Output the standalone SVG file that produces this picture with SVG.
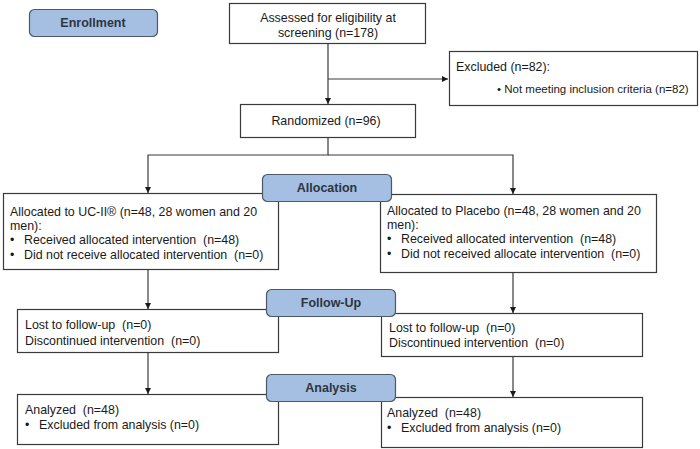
<svg xmlns="http://www.w3.org/2000/svg" width="700" height="449" viewBox="0 0 700 449" xml:space="preserve">
<style>
.box{fill:#fff;stroke:#3a3a3a;stroke-width:1.2}
.lbl{fill:#a4bfe2;stroke:#4d5866;stroke-width:1.2}
.t{font-family:"Liberation Sans",Arial,sans-serif;font-size:12.4px;fill:#1a1a1a;white-space:pre}
.b{font-family:"Liberation Sans",Arial,sans-serif;font-size:12.5px;font-weight:bold;fill:#2d3540}
.ln{fill:none;stroke:#3a3a3a;stroke-width:1.2}
</style>
<defs>
<marker id="ah" viewBox="0 0 10 10" refX="10" refY="5" markerWidth="6" markerHeight="6" orient="auto" markerUnits="userSpaceOnUse">
<path d="M0,0 L10,5 L0,10 z" fill="#1a1a1a"/>
</marker>
</defs>
<g id="connectors">
<line class="ln" x1="328" y1="43" x2="328" y2="104" marker-end="url(#ah)"/>
<line class="ln" x1="328" y1="79" x2="448" y2="79" marker-end="url(#ah)"/>
<polyline class="ln" points="328,137 328,155 148,155 148,193" marker-end="url(#ah)"/>
<polyline class="ln" points="328,155 513,155 513,194" marker-end="url(#ah)"/>
<line class="ln" x1="148" y1="269" x2="148" y2="309" marker-end="url(#ah)"/>
<line class="ln" x1="513" y1="272" x2="513" y2="313" marker-end="url(#ah)"/>
<line class="ln" x1="148" y1="352" x2="148" y2="394" marker-end="url(#ah)"/>
<line class="ln" x1="513" y1="356" x2="513" y2="397" marker-end="url(#ah)"/>
</g>
<g id="assessed">
<rect class="box" x="229.5" y="3.5" width="196" height="40"/>
<text class="t" x="328" y="22" text-anchor="middle">Assessed for eligibility at</text>
<text class="t" x="328" y="37" text-anchor="middle">screening (n=178)</text>
</g>
<g id="excluded">
<rect class="box" x="449.5" y="51.5" width="248" height="54"/>
<text class="t" x="456" y="71">Excluded (n=82):</text>
<text class="t" x="497" y="93" style="font-size:11.5px">• Not meeting inclusion criteria (n=82)</text>
</g>
<g id="randomized">
<rect class="box" x="240.5" y="104.5" width="175" height="33"/>
<text class="t" x="326" y="125" text-anchor="middle">Randomized (n=96)</text>
</g>
<g id="alloc-left">
<rect class="box" x="3.5" y="193.5" width="275" height="76"/>
<text class="t" x="10" y="216">Allocated to UC-II® (n=48, 28 women and 20</text>
<text class="t" x="10" y="230">men):</text>
<text class="t" x="10" y="244">•</text><text class="t" x="24" y="244">Received allocated intervention  (n=48)</text>
<text class="t" x="10" y="259">•</text><text class="t" x="24" y="259">Did not receive allocated intervention  (n=0)</text>
</g>
<g id="alloc-right">
<rect class="box" x="380.5" y="194.5" width="276" height="78"/>
<text class="t" x="387" y="215">Allocated to Placebo (n=48, 28 women and 20</text>
<text class="t" x="387" y="229">men):</text>
<text class="t" x="387" y="243">•</text><text class="t" x="401" y="243">Received allocated intervention  (n=48)</text>
<text class="t" x="387" y="258">•</text><text class="t" x="401" y="258">Did not received allocate intervention  (n=0)</text>
</g>
<g id="follow-left">
<rect class="box" x="17.5" y="309.5" width="261" height="43"/>
<text class="t" x="25" y="329">Lost to follow-up  (n=0)</text>
<text class="t" x="25" y="345">Discontinued intervention  (n=0)</text>
</g>
<g id="follow-right">
<rect class="box" x="381.5" y="313.5" width="261" height="43"/>
<text class="t" x="389" y="332">Lost to follow-up  (n=0)</text>
<text class="t" x="389" y="347">Discontinued intervention  (n=0)</text>
</g>
<g id="analysis-left">
<rect class="box" x="17.5" y="394.5" width="261" height="50"/>
<text class="t" x="25" y="414">Analyzed  (n=48)</text>
<text class="t" x="25" y="429">•</text><text class="t" x="39" y="429">Excluded from analysis (n=0)</text>
</g>
<g id="analysis-right">
<rect class="box" x="381.5" y="397.5" width="261" height="50"/>
<text class="t" x="387" y="417">Analyzed  (n=48)</text>
<text class="t" x="387" y="432">•</text><text class="t" x="401" y="432">Excluded from analysis (n=0)</text>
</g>
<g id="enrollment">
<rect class="lbl" x="29.5" y="9.5" width="128" height="27" rx="5"/>
<text class="b" x="93" y="27" text-anchor="middle">Enrollment</text>
</g>
<g id="allocation">
<rect class="lbl" x="262.5" y="174.5" width="129" height="27" rx="5"/>
<text class="b" x="327" y="192" text-anchor="middle">Allocation</text>
</g>
<g id="followup">
<rect class="lbl" x="266.5" y="289.5" width="129" height="27" rx="5"/>
<text class="b" x="331" y="307" text-anchor="middle">Follow-Up</text>
</g>
<g id="analysis">
<rect class="lbl" x="266.5" y="374.5" width="129" height="27" rx="5"/>
<text class="b" x="331" y="392" text-anchor="middle">Analysis</text>
</g>
</svg>
